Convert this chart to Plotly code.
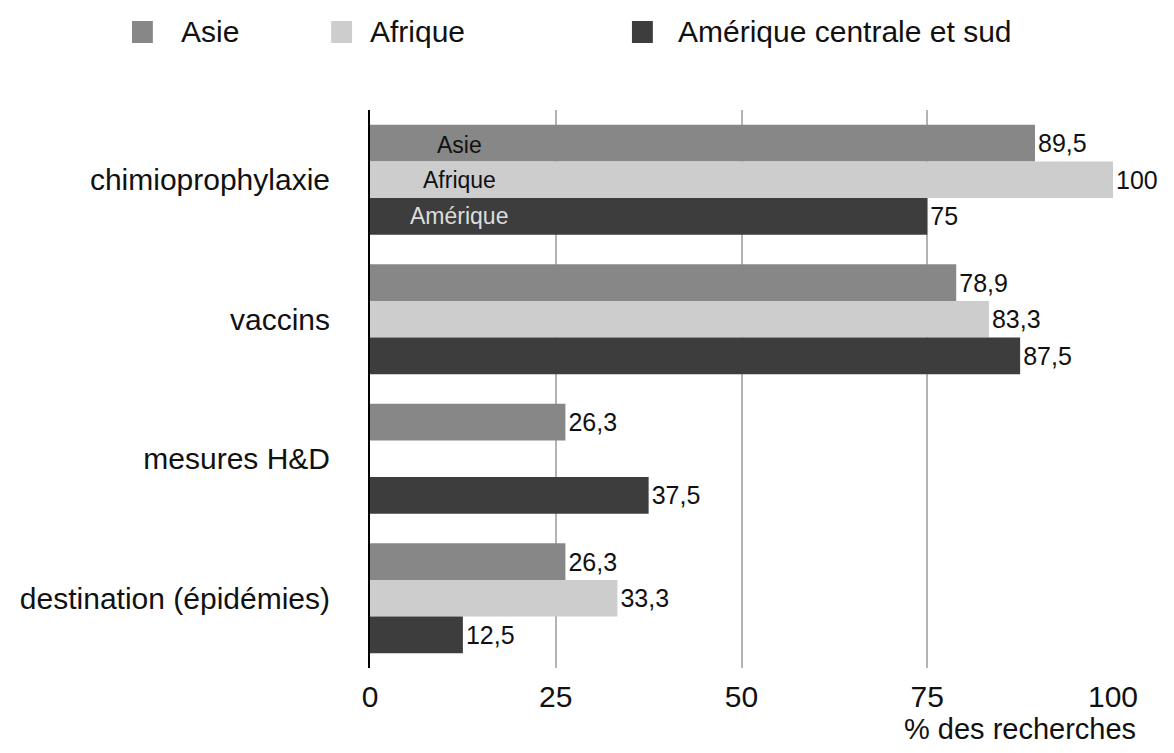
import plotly.graph_objects as go

categories = ["chimioprophylaxie", "vaccins", "mesures H&D", "destination (épidémies)"]
series_names = ["Asie", "Afrique", "Amérique centrale et sud"]
inside_labels = ["Asie", "Afrique", "Amérique"]
asie = [89.5, 78.9, 26.3, 26.3]
afrique = [100, 83.3, None, 33.3]
amerique = [75, 87.5, 37.5, 12.5]
x_ticks = [0, 25, 50, 75, 100]
x_title = "% des recherches"

colors = ["#868786", "#cccdcc", "#3c3d3c"]
inside_colors = ["#111111", "#111111", "#dddddd"]
FONT = "Liberation Sans, Arial, Helvetica, sans-serif"

# page body has an 8px margin: work in screenshot pixels, convert to figure pixels
OFF = 8
W, H = 1174 - 2 * OFF, 753 - 2 * OFF
L, R, T, B = 367 - OFF, 1113 - OFF, 110 - OFF, 668 - OFF


def fmt(v):
    return "" if v is None else f"{v:g}".replace(".", ",")


fig = go.Figure()
for name, vals, col in zip(series_names, [asie, afrique, amerique], colors):
    fig.add_trace(go.Bar(
        name=name, y=categories, x=vals, orientation="h",
        marker=dict(color=col, line=dict(width=0)),
        text=[fmt(v) for v in vals], textposition="outside",
        textfont=dict(family=FONT, size=25, color="#111111"),
        cliponaxis=False, showlegend=False,
    ))


def px2x(px):
    return (px - OFF - L) / (R - L)


def py2y(py):
    return (B - (py - OFF)) / (B - T)


shapes = []
annotations = []
# Legend (manual)
leg_sq = [128, 328, 630]
leg_tx = [175, 365, 674]
for name, col, sx, tx in zip(series_names, colors, leg_sq, leg_tx):
    shapes.append(dict(type="rect", xref="paper", yref="paper",
                       x0=px2x(sx), x1=px2x(sx + 21), y0=py2y(43), y1=py2y(21),
                       fillcolor=col, line=dict(width=0)))
    annotations.append(dict(xref="paper", yref="paper", x=px2x(tx), y=py2y(32),
                            xanchor="left", yanchor="middle", text=name, showarrow=False,
                            font=dict(family=FONT, size=30, color="#111111")))

# inside labels in first group
shifts = [35, 0, -36.7]
for lab, col, sh in zip(inside_labels, inside_colors, shifts):
    annotations.append(dict(x=12, y=categories[0], xref="x", yref="y", yshift=sh,
                            text=lab, showarrow=False, xanchor="center", yanchor="middle",
                            font=dict(family=FONT, size=23, color=col)))

annotations.append(dict(xref="paper", yref="paper", x=px2x(1138), y=py2y(729),
                        xanchor="right", yanchor="middle", text=x_title, showarrow=False,
                        font=dict(family=FONT, size=29, color="#111111")))

fig.update_layout(
    width=W, height=H,
    margin=dict(l=L, r=W - R, t=T, b=H - B),
    paper_bgcolor="white", plot_bgcolor="white",
    barmode="group", bargap=0.21, bargroupgap=0,
    font=dict(family=FONT, color="#111111"),
    shapes=shapes, annotations=annotations,
    xaxis=dict(range=[0, 100], tickvals=x_ticks, ticktext=[str(t) for t in x_ticks],
               showgrid=True, gridcolor="#b3b3b3", gridwidth=2, zeroline=False,
               showline=False, ticks="", ticklabelstandoff=8,
               tickfont=dict(family=FONT, size=30, color="#111111")),
    yaxis=dict(autorange="reversed", showgrid=False, zeroline=False,
               showline=True, linecolor="black", linewidth=2, ticks="",
               ticklabelstandoff=32,
               tickfont=dict(family=FONT, size=30, color="#111111")),
)

fig.write_html("out.html")
